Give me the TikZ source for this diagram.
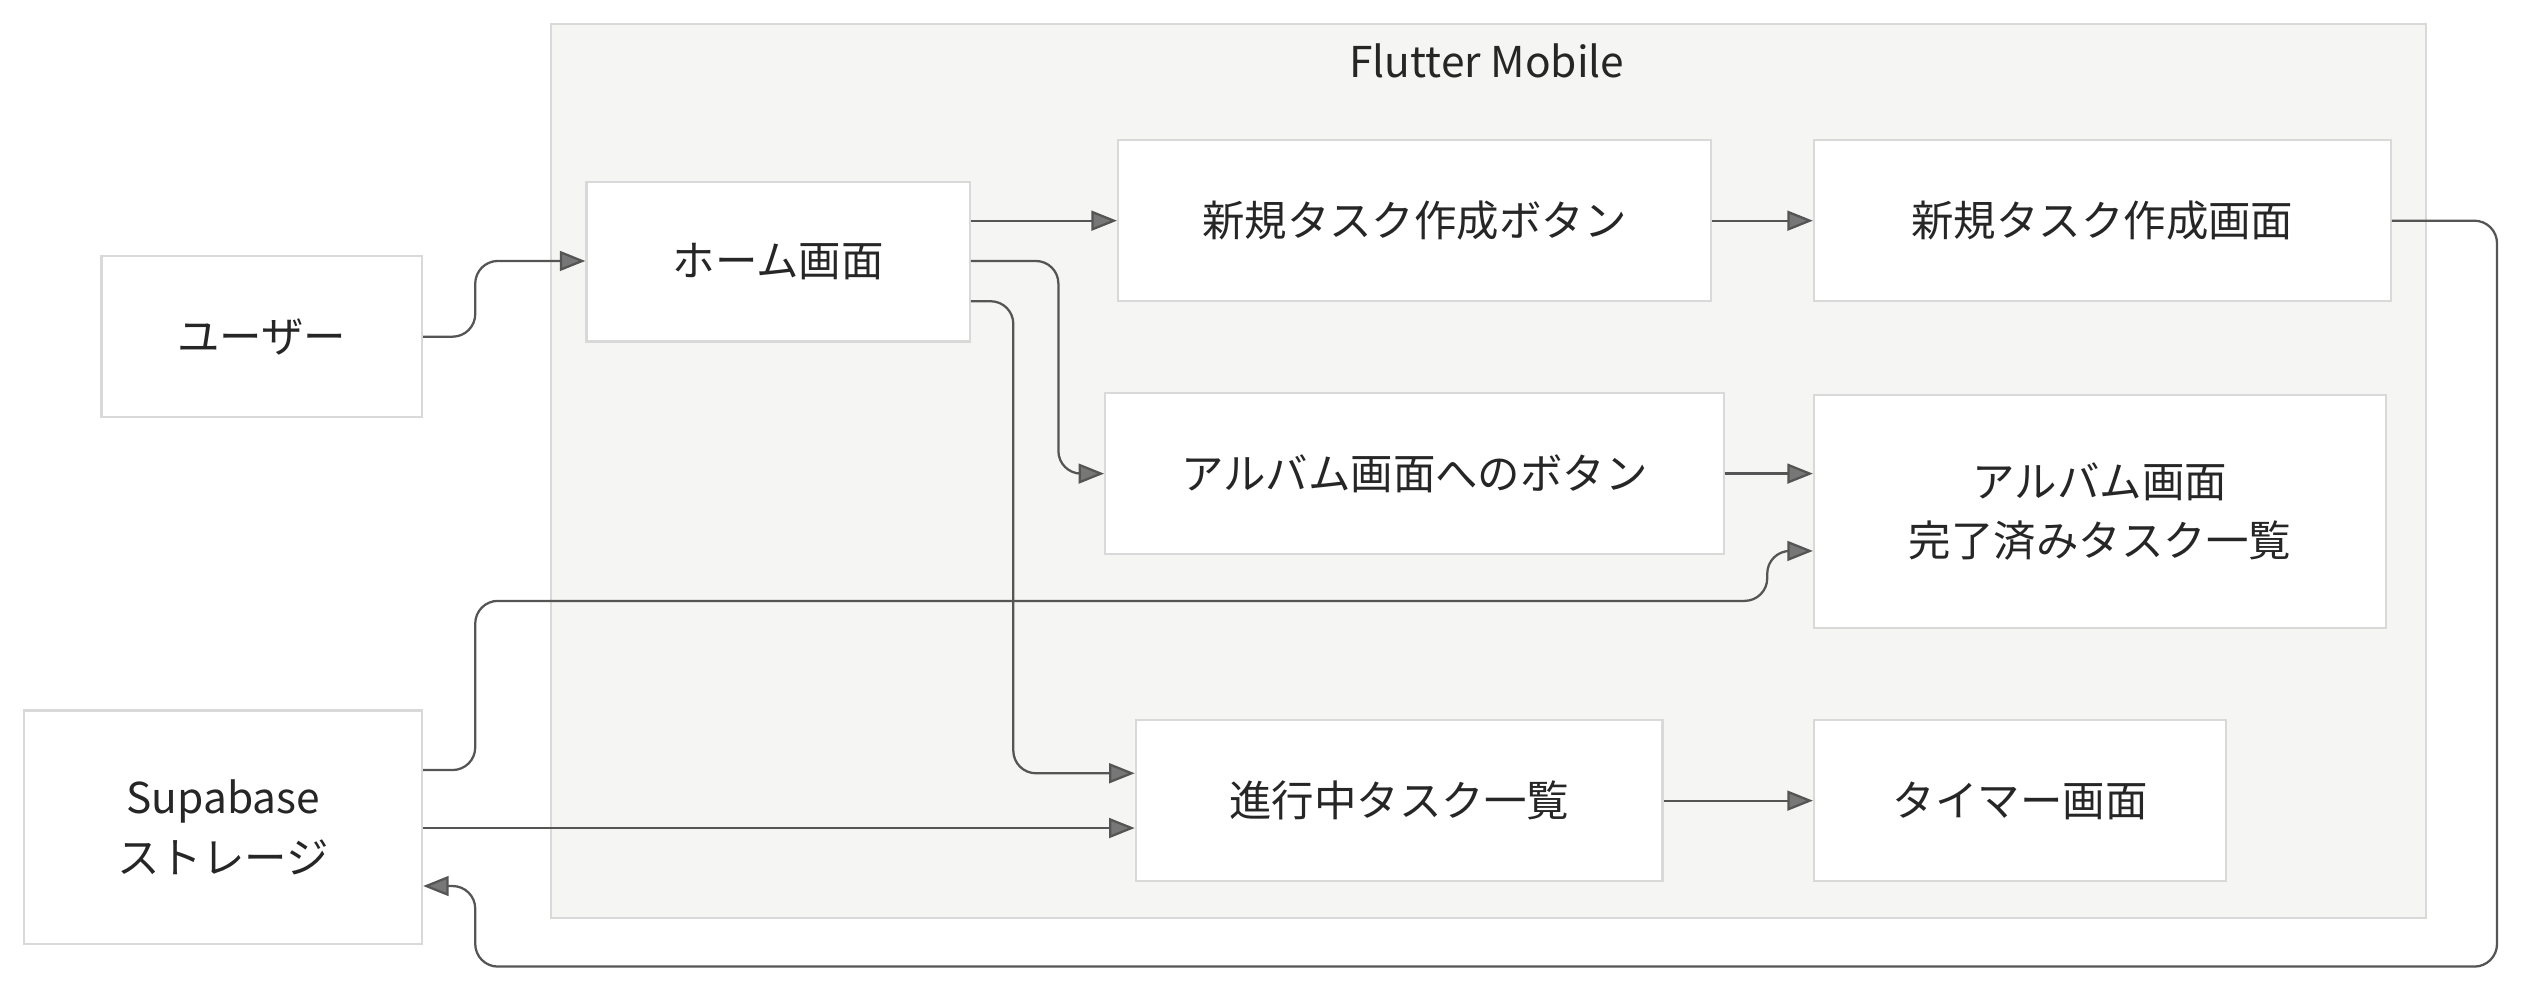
\documentclass[tikz,border=0pt]{standalone}
\usepackage{fontspec}
\setmainfont{Noto Sans CJK JP}
\usetikzlibrary{arrows.meta}
\definecolor{boxline}{HTML}{D9D9D9}
\definecolor{grpfill}{HTML}{F5F5F3}
\definecolor{edge}{HTML}{555555}
\tikzset{
  box/.style={draw=boxline, line width=0.8pt, fill=white, inner sep=0pt, align=center,
    font=\fontsize{15}{21}\selectfont, text=black!85},
  flow/.style={draw=edge, line width=0.8pt, rounded corners=8pt,
    -{Triangle[length=9pt,width=7pt,fill=edge!80]}}
}
\begin{document}
\begin{tikzpicture}[x=0.02cm,y=-0.02cm]
\useasboundingbox (0,0) rectangle (1568,617);
\draw[draw=boxline, fill=grpfill, line width=0.8pt] (342,15) rectangle (1506,570);
\node[font=\fontsize{15}{18}\selectfont, text=black!85] (grp) at (923,38) {Flutter Mobile};
\node[box, minimum width=3.98cm, minimum height=2cm] (user) at (162.5,209) {ユーザー};
\node[box, minimum width=4.94cm, minimum height=2.9cm] (supa) at (138.5,513.5) {Supabase\\ストレージ};
\node[box, minimum width=4.76cm, minimum height=1.98cm] (home) at (483,162.5) {ホーム画面};
\node[box, minimum width=7.36cm, minimum height=2cm] (newbtn) at (878,137) {新規タスク作成ボタン};
\node[box, minimum width=7.16cm, minimum height=2cm] (newscr) at (1305,137) {新規タスク作成画面};
\node[box, minimum width=7.68cm, minimum height=2cm] (albbtn) at (878,294) {アルバム画面へのボタン};
\node[box, minimum width=7.1cm, minimum height=2.9cm] (album) at (1303.5,317.5) {アルバム画面\\完了済みタスク一覧};
\node[box, minimum width=6.54cm, minimum height=2cm] (prog) at (868.5,497) {進行中タスク一覧};
\node[box, minimum width=5.12cm, minimum height=2cm] (timer) at (1254,497) {タイマー画面};
% edges
\draw[flow] (user.east |- 0,209) -- (295,209) -- (295,162) -- (home.west |- 0,162);
\draw[flow] (home.east |- 0,137) -- (newbtn.west |- 0,137);
\draw[flow] (newbtn) -- (newscr);
\draw[flow] (home.east |- 0,162) -- (657,162) -- (657,294) -- (albbtn.west);
\draw[flow] (home.east |- 0,187) -- (629,187) -- (629,480) -- (prog.west |- 0,480);
\draw[flow] (albbtn.east) -- (album.west |- 0,294);
\draw[flow] (supa.east |- 0,478) -- (295,478) -- (295,373) -- (1097,373) -- (1097,342) -- (album.west |- 0,342);
\draw[flow] (supa.east |- 0,514) -- (prog.west |- 0,514);
\draw[flow] (prog) -- (timer);
\draw[flow] (newscr.east) -- (1550,137) -- (1550,600) -- (295,600) -- (295,550) -- (supa.east |- 0,550);
\end{tikzpicture}
\end{document}
